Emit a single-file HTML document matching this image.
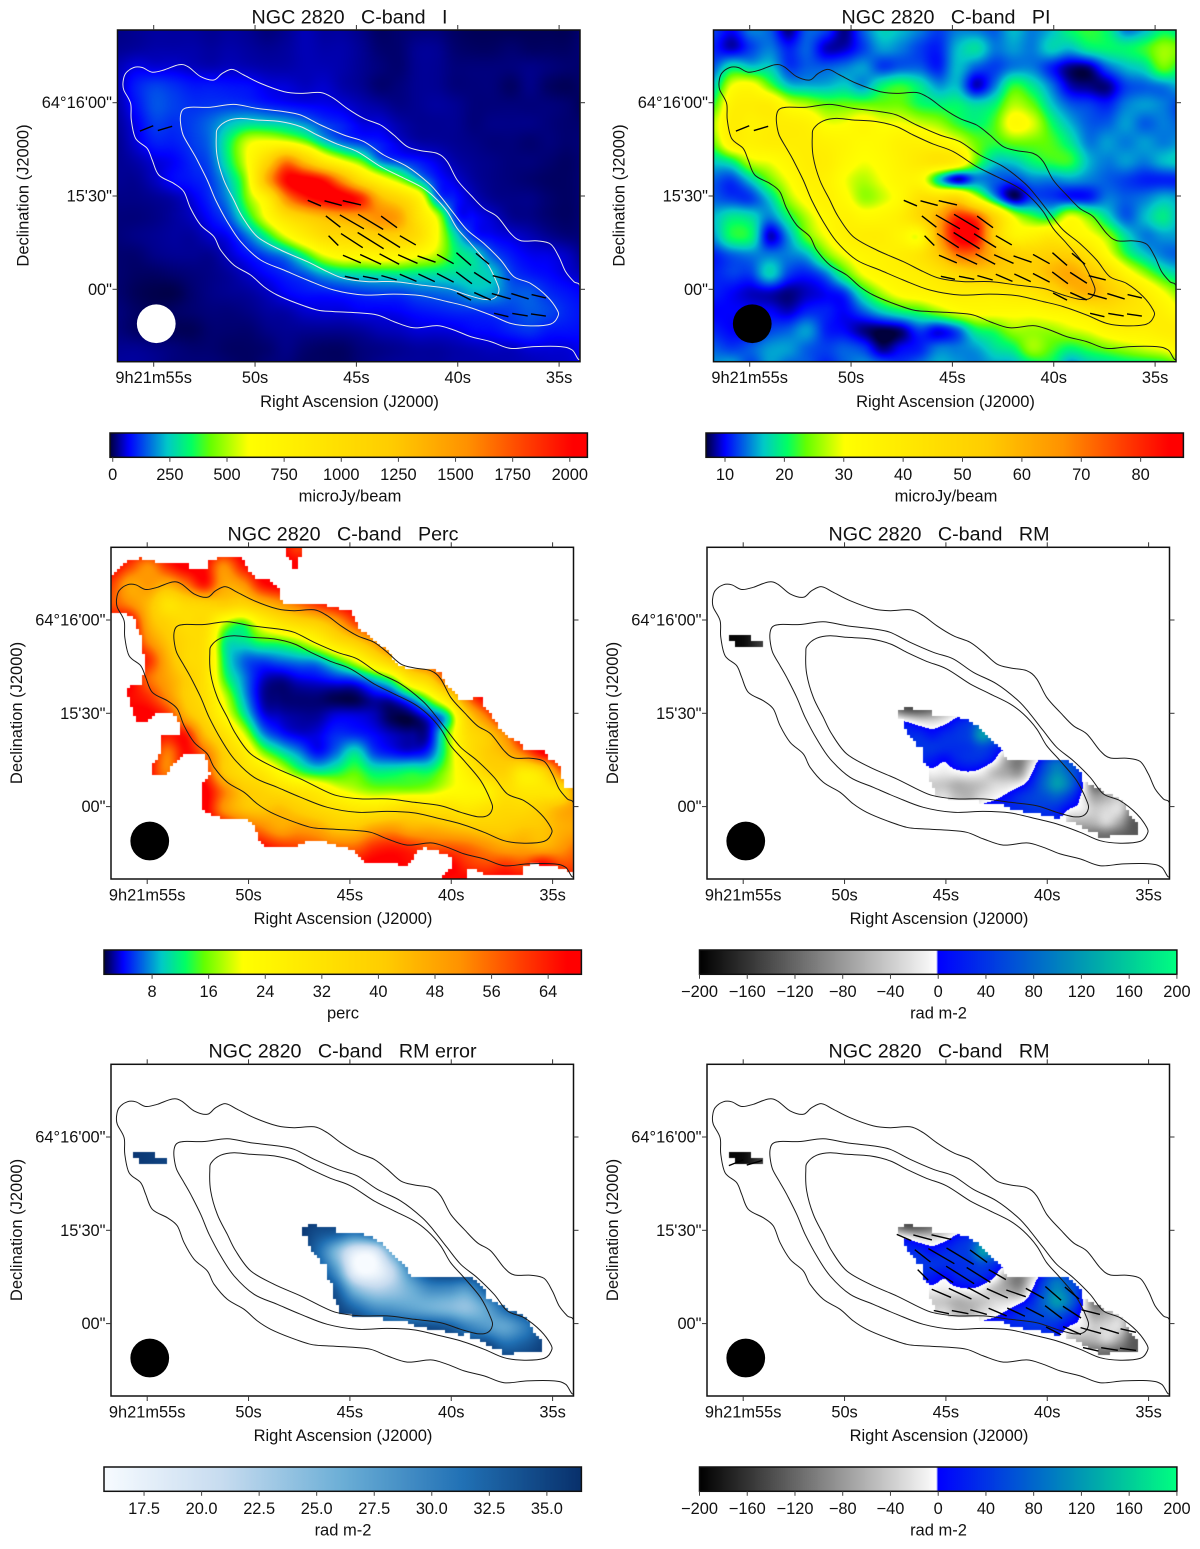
<!DOCTYPE html>
<html lang="en">
<head>
<meta charset="utf-8">
<title>NGC 2820 C-band polarization maps</title>
<style>
html,body{margin:0;padding:0;background:#fff;}
#figure{position:relative;width:1200px;height:1549px;overflow:hidden;background:#fff;}
canvas{position:absolute;display:block;}
#overlay{position:absolute;left:0;top:0;}
text{font-family:"Liberation Sans",Arial,sans-serif;fill:#111;}
.title{font-size:19.7px;text-anchor:middle;white-space:pre;}
.axis-label{font-size:16.5px;text-anchor:middle;}
.tick-label{font-size:16.4px;}
</style>
</head>
<body>
<div id="figure">
<canvas id="map-p1"></canvas>
<canvas id="map-p2"></canvas>
<canvas id="map-p3"></canvas>
<canvas id="map-p4"></canvas>
<canvas id="map-p5"></canvas>
<canvas id="map-p6"></canvas>
<svg id="overlay" width="1200" height="1549" viewBox="0 0 1200 1549" xmlns="http://www.w3.org/2000/svg">
<defs id="defs"></defs>
<g id="panel-p1">
<text class="title" x="349.5" y="23.5" xml:space="preserve">NGC 2820   C-band   I</text>
<text class="axis-label" x="349.5" y="407">Right Ascension (J2000)</text>
<text class="axis-label" transform="translate(28.5,195.5) rotate(-90)">Declination (J2000)</text>
<text class="axis-label" x="350" y="501.5">microJy/beam</text>
</g>
<g id="panel-p2">
<text class="title" x="946" y="23.5" xml:space="preserve">NGC 2820   C-band   PI</text>
<text class="axis-label" x="945.5" y="407">Right Ascension (J2000)</text>
<text class="axis-label" transform="translate(624.5,195.5) rotate(-90)">Declination (J2000)</text>
<text class="axis-label" x="946" y="501.5">microJy/beam</text>
</g>
<g id="panel-p3">
<text class="title" x="343" y="540.5" xml:space="preserve">NGC 2820   C-band   Perc</text>
<text class="axis-label" x="343" y="924">Right Ascension (J2000)</text>
<text class="axis-label" transform="translate(22,713) rotate(-90)">Declination (J2000)</text>
<text class="axis-label" x="343" y="1018.5">perc</text>
</g>
<g id="panel-p4">
<text class="title" x="939" y="540.5" xml:space="preserve">NGC 2820   C-band   RM</text>
<text class="axis-label" x="939" y="924">Right Ascension (J2000)</text>
<text class="axis-label" transform="translate(618,713) rotate(-90)">Declination (J2000)</text>
<text class="axis-label" x="938.5" y="1018.5">rad m-2</text>
</g>
<g id="panel-p5">
<text class="title" x="342.5" y="1057.5" xml:space="preserve">NGC 2820   C-band   RM error</text>
<text class="axis-label" x="343" y="1441">Right Ascension (J2000)</text>
<text class="axis-label" transform="translate(22,1230) rotate(-90)">Declination (J2000)</text>
<text class="axis-label" x="343" y="1535.5">rad m-2</text>
</g>
<g id="panel-p6">
<text class="title" x="939" y="1057.5" xml:space="preserve">NGC 2820   C-band   RM</text>
<text class="axis-label" x="939" y="1441">Right Ascension (J2000)</text>
<text class="axis-label" transform="translate(618,1230) rotate(-90)">Declination (J2000)</text>
<text class="axis-label" x="938.5" y="1535.5">rad m-2</text>
</g>
</svg>
</div>
<script>
// ---------- Axis tick values and labels ----------
const raTickSeconds = [55, 50, 45, 40, 35];
const raTickLabels = ['9h21m55s', '50s', '45s', '40s', '35s'];
const decTickArcsec = [60, 30, 0];
const decTickLabels = ['64\u00b016\'00"', '15\'30"', '00"'];

// ---------- Colorbar ticks ----------
const stokesTicks = [0, 250, 500, 750, 1000, 1250, 1500, 1750, 2000];
const piTicks = [10, 20, 30, 40, 50, 60, 70, 80];
const percTicks = [8, 16, 24, 32, 40, 48, 56, 64];
const rmTicks = [-200, -160, -120, -80, -40, 0, 40, 80, 120, 160, 200];
const rmErrTicks = [17.5, 20, 22.5, 25, 27.5, 30, 32.5, 35];

// ---------- Stokes I map (microJy/beam), 6 arcsec grid from the map corner ----------
const stokesRows = [
[20,25,30,30,30,25,30,25,15,25,40,30,30,20,5,10,15,15,5,0,0,0,0,0,0,15],
[25,30,35,35,35,30,35,30,25,30,40,35,35,25,10,10,25,25,10,5,5,10,5,5,5,15],
[40,60,55,55,45,40,45,40,35,35,40,40,35,25,15,10,25,25,15,15,15,15,20,15,10,10],
[40,95,125,110,90,90,85,80,60,55,45,50,35,25,10,15,25,25,15,15,15,5,20,5,0,10],
[35,85,140,125,110,115,120,115,95,80,70,65,55,40,30,20,25,30,25,15,15,15,15,15,10,0],
[30,65,120,110,125,165,235,280,270,245,190,125,95,60,55,35,25,25,25,15,20,20,20,15,10,10],
[25,55,95,95,120,170,350,560,620,600,470,270,165,120,90,55,35,30,25,20,15,15,10,15,10,15],
[25,35,55,70,105,150,340,620,1100,1600,1250,850,600,420,190,125,90,60,35,25,20,15,15,10,5,15],
[25,25,45,75,90,125,260,560,1400,2000,2080,1950,1500,1000,700,480,250,100,55,30,20,15,10,5,5,15],
[20,20,25,35,60,110,210,470,800,1550,1900,2050,2080,1900,1350,1100,780,200,90,45,25,20,20,10,5,15],
[15,15,20,30,45,80,150,350,620,950,1150,1300,1400,1450,1550,1450,950,570,125,75,50,25,20,10,5,15],
[15,20,25,30,30,50,75,175,340,570,800,1000,1050,1100,1150,1150,1000,620,280,105,70,55,40,25,15,15],
[10,10,20,25,25,25,50,85,135,200,360,570,680,680,730,700,620,520,340,270,145,90,65,60,45,20],
[10,5,5,10,15,20,30,50,75,105,145,220,270,290,300,310,300,290,280,270,235,125,90,75,55,40],
[10,0,-5,-5,10,20,25,30,45,70,85,90,100,115,125,125,150,160,175,220,210,150,145,105,85,70],
[15,5,0,5,10,15,15,20,30,35,50,55,55,65,65,70,85,95,105,110,115,125,145,130,100,85],
[15,5,0,0,0,10,10,10,20,25,25,25,25,30,40,45,55,55,60,75,80,100,115,90,85,80],
[25,25,20,15,10,10,5,5,10,20,10,5,5,15,20,25,30,30,35,40,45,45,55,55,55,70],
[30,30,25,15,15,15,10,5,15,15,5,5,5,15,25,30,30,30,35,35,35,40,40,45,50,60]
];

// ---------- Polarized intensity map (microJy/beam) ----------
const piRows = [
[12,10,14,13,8,13,12,8,13,17,16,14,12,14,14,13,16,14,16,20,22,20,14,16,20,18],
[11,9,12,14,11,13,9,9,12,15,14,12,11,16,18,14,15,14,17,16,19,20,20,22,26,24],
[13,19,17,17,12,13,13,14,15,12,13,13,11,16,13,12,14,14,11,8,8,13,16,18,24,20],
[17,30,32,24,17,16,16,17,15,20,22,19,15,16,9,14,22,19,14,9,8,8,12,13,14,16],
[22,36,38,38,30,27,24,24,24,24,24,21,20,20,18,20,27,24,17,13,12,11,14,15,14,12],
[27,38,36,38,38,36,30,30,33,30,30,28,26,22,20,23,32,29,21,16,13,13,15,13,14,13],
[24,36,36,38,38,38,36,34,32,33,36,36,34,30,24,22,24,24,23,19,14,15,14,15,14,15],
[17,20,28,30,34,38,38,33,30,32,36,40,42,38,24,17,17,20,22,22,16,14,15,14,16,17],
[13,12,17,24,30,36,36,30,27,30,34,33,18,9,14,13,12,14,14,15,14,13,12,11,11,11],
[13,12,12,17,26,32,36,32,26,28,33,44,46,50,32,17,8,12,12,11,11,14,13,14,16,15],
[16,19,18,14,20,27,33,36,33,34,38,48,62,80,76,50,30,23,21,30,25,18,13,16,19,15],
[15,21,20,9,15,24,30,36,38,38,34,31,62,86,84,52,36,36,40,36,32,26,18,14,15,15],
[11,13,14,14,14,16,24,30,34,36,38,42,54,70,70,58,52,50,52,52,44,32,22,17,14,13],
[11,12,12,17,12,11,14,22,30,34,36,38,42,48,52,52,52,52,58,62,56,46,34,26,20,17],
[11,10,9,9,8,9,10,12,20,27,32,34,36,38,38,38,40,42,48,56,60,54,46,38,30,24],
[10,10,10,10,9,11,11,10,13,17,20,22,26,30,32,32,32,32,34,36,40,44,42,40,36,30],
[11,10,10,12,13,15,11,10,8,7,8,12,10,13,20,22,26,26,26,28,30,34,36,36,38,38],
[13,12,13,15,15,13,12,13,12,8,10,11,14,14,15,18,20,26,23,20,22,24,26,28,30,34],
[15,16,12,15,13,13,11,13,15,14,12,14,16,15,14,15,15,18,20,14,16,17,18,18,19,22]
];

// ---------- Percent polarization map ----------
const percRows = [
[68,68,68,68,68,68,68,68,68,68,60,68,68,68,68,68,68,68,68,68,68,68,68,68,68,68],
[68,60,52,62,68,66,52,64,68,68,68,68,68,68,68,68,68,68,68,68,68,68,68,68,68,68],
[60,48,50,46,54,64,48,50,64,68,68,68,68,68,68,68,68,68,68,68,68,68,68,68,68,68],
[58,52,44,32,36,38,40,38,44,50,56,62,66,68,68,68,68,68,68,68,68,68,68,68,68,68],
[68,68,46,38,34,34,20,15,24,31,36,40,48,60,68,68,68,68,68,68,68,68,68,68,68,68],
[68,68,52,42,36,32,13,11,14,15,18,24,33,40,50,64,68,68,68,68,68,68,68,68,68,68],
[68,68,62,46,36,32,13,7,6,7,8,9,14,21,31,42,56,62,68,68,68,68,68,68,68,68],
[68,68,56,48,40,32,15,8,3.5,2.5,3.5,4,5,6,10,16,31,40,60,68,68,68,68,68,68,68],
[68,66,62,52,40,33,20,9.5,3,2,2,2,1.5,1.5,3,4,9,18,33,56,68,68,68,68,68,68],
[68,68,68,62,46,36,24,13,4.5,3,2.5,2.5,3.5,3.5,3,1.5,1.7,5,12,38,54,68,68,68,68,68],
[68,68,68,64,64,44,33,21,9,5,3.5,3.5,5,5,4,3,2.5,3.5,16,33,40,52,68,68,68,68],
[68,68,68,54,66,56,40,30,18,12,8,4.5,7,11,6,4.5,4,6,16,31,40,44,54,66,68,68],
[68,68,66,54,68,62,42,34,30,22,15,12,13,15,12,12,13,13,18,26,36,38,28,34,56,68],
[68,68,68,68,68,68,54,42,38,34,31,28,22,19,17,17,17,18,21,23,25,33,30,30,33,54],
[68,68,68,68,68,68,52,44,42,44,40,36,33,30,30,33,36,33,33,30,33,36,36,40,46,50],
[68,68,68,68,68,68,68,60,54,48,50,48,42,42,48,50,46,46,44,42,40,40,42,42,46,48],
[68,68,68,68,68,68,68,68,66,62,60,58,56,56,62,64,62,58,58,56,52,48,48,46,50,56],
[68,68,68,68,68,68,68,68,68,68,68,68,68,66,68,68,66,68,68,62,60,62,60,68,60,60],
[68,68,68,68,68,68,68,68,68,68,68,68,68,68,68,68,68,68,64,68,68,68,68,68,68,68]
];

// Valid-data outline of the percent map, arcsec offsets from map corner
const percRegion = [[0,10],[1.3,8.4],[3.9,5.2],[5.5,3.8],[8.7,3.8],[9.3,2.6],[10.1,3.8],[14.1,3.8],[14.1,5.2],[25.1,5.2],[25.1,7.2],[30.8,7.2],[31.5,3.6],[34.3,3.6],[34.7,2.6],[41.8,2.6],[42.9,5.2],[44.5,7.9],[46.6,9.7],[50.9,9.7],[52,11.6],[53.5,13.2],[53.9,16.4],[55.4,17.5],[69,17.6],[69,18.9],[73.3,18.9],[73.5,20.4],[76.5,20.4],[77.5,22.3],[79.7,26],[81.8,27.6],[85.6,30.8],[88.8,33.5],[91.4,37.2],[94.6,38.8],[103.7,38.8],[103.7,40.4],[106.4,40.4],[106.6,43.6],[109.6,46.3],[112.2,49.5],[115.4,49.5],[115.7,47.9],[118.6,47.9],[119.2,50.6],[121.8,53.8],[124.5,57.5],[127.7,61.2],[130.7,61.8],[132.2,64.7],[139.4,64.7],[139.6,67.1],[144.2,70.3],[144.7,76.7],[148.5,76.9],[148.5,105],[144.2,102.8],[135.2,101.2],[132.5,101.8],[132.2,105.3],[118.6,105.3],[118.6,103.9],[115.4,102.8],[113.8,103.4],[113.8,106.6],[104.8,106.6],[108.5,102.8],[109.6,99.1],[105.3,97.5],[100.5,96.4],[97.3,98],[96.2,100.7],[94.6,102.3],[90.3,100.7],[80.7,100.7],[78.1,97.5],[76,96.4],[64.7,93.5],[57.8,96.4],[51.4,96.4],[47.7,94.8],[46.1,89.5],[43.4,86.8],[35.9,87.1],[29.5,84.2],[29.5,75.1],[31.7,72.4],[30.1,66],[23.1,66],[19.4,70.3],[17.3,73.5],[13,73.5],[13.3,69.2],[15.7,66],[15.9,60.2],[22.1,60.2],[22.1,56.4],[19.4,52.7],[14.6,52.7],[10.9,56.4],[8.7,56.4],[7.1,52.7],[5.5,47.9],[5.5,44.7],[10.1,43.6],[10.9,38.3],[10.1,29.8],[8.7,26.6],[7.1,22.1],[0,20.4]];
const percPatch = [[55.7,0],[61.3,0],[61,2.6],[59.6,3.1],[59.6,6.8],[58.1,6.8],[58.1,4.2],[55.7,2.6]];

// ---------- Rotation measure (rad m-2), 4 arcsec grid starting at (60", 48") ----------
const rmRows = [
[-130,-140,-130,-120,-100,-60,-40,-40,-40,-40,-40,-40,-40,-40,-40,-40,-40,-40,-40,-40,-40],
[-100,-130,-130,-110,-70,-35,-20,-20,-20,-20,-20,-20,-20,-20,-20,-20,-20,-20,-20,-20,-20],
[20,2,-20,-25,-10,20,40,80,80,80,60,60,60,60,60,60,60,60,60,60,60],
[30,30,30,15,30,40,55,120,90,50,-30,-60,-80,-80,-50,-50,-50,-50,-50,-50,-50],
[30,40,40,40,35,35,40,55,35,5,-40,-80,-100,-100,-60,-60,-50,-50,-50,-50,-50],
[30,30,30,18,4,25,35,30,2,-70,-100,-40,30,65,45,30,-60,-60,-60,-60,-60],
[-20,-20,-20,-10,-15,-8,-3,-15,-50,-70,-80,-2,65,105,75,25,-70,-80,-60,-60,-60],
[-40,-40,-40,-40,-45,-60,-55,-45,-30,-25,-10,30,80,120,85,10,-110,-90,-50,-40,-40],
[-30,-30,-30,-30,-25,-50,-55,-25,-8,10,35,50,60,70,40,-8,-70,-60,-40,-60,-60],
[-30,-30,-30,-30,-30,-30,-30,10,20,30,30,40,40,30,-3,-15,-40,-30,-30,-100,-100],
[-30,-30,-30,-30,-30,-30,-30,-30,-30,20,20,20,20,20,-50,-60,-55,-35,-70,-125,-125],
[-30,-30,-30,-30,-30,-30,-30,-30,-30,-30,-30,-30,-30,-30,-80,-100,-110,-110,-120,-130,-130],
[-30,-30,-30,-30,-30,-30,-30,-30,-30,-30,-30,-30,-30,-30,-110,-110,-110,-110,-120,-130,-130]
];
const rmPatchRows = [[-195,-190,-150,-150],[-195,-190,-150,-150]];

// ---------- Rotation measure error (rad m-2), 6 arcsec grid starting at (60", 48") ----------
const rmErrRows = [
[36,36,36,36,36,36,36,36,36,36,36,36,36,36,36],
[36,34,33,31,33,35,36,36,36,36,36,36,36,36,36],
[36,32,25,18,18,27,35,36,36,36,36,36,36,36,36],
[36,34,28,17,16,21,30,35,36,36,36,36,36,36,36],
[36,36,33,25,22,23,26,29,29,28,33,36,36,36,36],
[36,36,35,32,29,28,27,26,25,24,27,32,35,36,36],
[36,36,36,36,35,34,34,34,33,30,28,27,30,34,36],
[36,36,36,36,36,36,36,36,36,35,35,32,33,35,36],
[36,36,36,36,36,36,36,36,36,36,36,36,36,36,36]
];
const rmErrPatchRows = [[36,35.5,35,35],[36,35.5,35,35]];

// Valid-data outline of the RM maps
const rmRegion = [[62.6,50.8],[65.7,50.8],[65.7,52.4],[71.9,52.4],[71.9,54],[81,54.3],[84.2,55.6],[85.8,57],[88.4,58.6],[90,60.2],[91.6,62.3],[94.3,64.8],[95.9,67.6],[110.8,67.8],[115.6,68.2],[117.8,69.8],[119.9,72.4],[120.4,74.6],[124.7,76.7],[127.9,78.8],[132.2,80.4],[134.3,83.1],[135.4,86.3],[138.3,89],[138.3,91.6],[129,91.6],[129,93.2],[125.2,93.2],[124.7,91.4],[120.4,90],[117.2,87.9],[114.6,87.9],[114.6,85.8],[111.9,86.8],[106.6,85.4],[97.5,84],[97.5,82.6],[88.4,82.2],[86.8,81.5],[77.8,80.6],[73,79.9],[72.4,76.7],[70.8,73.5],[70.8,70.8],[69.2,69],[69,64.4],[67.3,64.4],[67.1,61.8],[65.5,61.2],[63.9,58.6],[62.6,55.4],[61.4,54.8],[61.4,52.4],[62.6,52.4]];
const rmPatch = [[7,27.8],[14.1,27.8],[14.1,30],[17.6,30],[17.6,32.3],[9,32.3],[9,30],[7,30]];

// ---------- Stokes I contours, arcsec offsets from map corner ----------
const contourOuter = [[1.8,16.5],[2.6,13.9],[5.2,12],[7.9,12],[11.1,13.5],[14.8,12.8],[19.6,11.1],[22.5,11.7],[26.6,14.9],[30.8,16],[33.5,13.9],[36.7,12.6],[40.4,14.4],[45.8,17.1],[53.2,19.7],[58.6,20.3],[65,20],[69.2,21.9],[73.5,25.1],[78.8,28.3],[84.2,30.4],[88.4,33.6],[92.7,37.3],[97,38.6],[102.3,39.5],[105.5,42.1],[108.7,48],[113,52.8],[117.2,57.1],[121.5,59.7],[125.8,65.1],[129,67.4],[134.3,67.5],[138.6,68.5],[141.2,72.5],[143.4,77.3],[146,80.5],[148.2,82.3],[150.3,92.8],[148.2,105.1],[145.5,102.4],[141.8,101.3],[133.2,101.3],[125.8,101.9],[119.4,99.7],[113,98.1],[107.6,96],[102.3,94.6],[94.8,95.3],[88.4,93.3],[83.1,91.2],[76.7,90.5],[69.2,90.1],[63.9,89.6],[57.5,87.5],[51.1,84.8],[46.8,82.1],[42.6,78.4],[37.2,75.2],[33,70.4],[30.8,66.1],[26.6,62.4],[23.4,57.1],[21.2,51.7],[18,49.1],[13.2,46.4],[11.1,41.6],[9.5,37.9],[5.8,34.7],[4.4,28.8],[4.2,23.5],[2,19.2]];
const contourMiddle = [[20.2,27.2],[21,25.4],[23.4,24.7],[29.8,24.7],[37.2,23.8],[44.7,25.1],[53.2,26.1],[58.6,27.2],[65,30.4],[72.4,33.6],[78.8,35.7],[85.2,40],[92.7,43.7],[99.6,49.1],[103.4,53.3],[107.6,58.7],[111.9,64],[117.2,68.3],[122.6,73.6],[126.8,78.9],[132.2,81.1],[137.5,85.3],[140.7,89.6],[140.9,91.7],[138.6,94.1],[132.2,94.7],[125.8,93.9],[119.4,91.2],[111.9,88.5],[105.5,86.9],[97,85],[88.4,84.5],[78.8,84.8],[69.2,83.2],[60.7,80],[53.2,76.8],[45.8,73.6],[39.4,67.7],[35.1,61.3],[31.4,54.4],[28.7,48],[25.5,41.6],[23.4,37.9],[21,33.6],[20.2,29.9]];
const contourInner = [[31.6,34.1],[32.1,31.5],[35.1,29.1],[39.4,28.3],[44.7,28.8],[52.2,29.3],[58.6,30.9],[63.9,33.6],[70.3,36.5],[76.7,38.9],[84.2,43.7],[90.6,46.9],[97,50.1],[101.2,53.3],[105.5,58.1],[108.7,63.5],[113,68.3],[118.3,74.7],[121.5,81.1],[122,83.7],[120.4,85.9],[117.2,86.2],[111.9,84.8],[105.5,82.7],[97,81.6],[88.4,80.5],[79.9,80.5],[72.4,79.5],[67.1,77.3],[60.7,74.1],[52.2,70.4],[44.7,66.1],[39.9,59.7],[37.2,54.4],[34,48],[31.9,40.5]];

// ---------- Polarization vectors: centre (arcsec), length (arcsec), angle (deg) ----------
const vecX = [9.3,15.2,63,69,75,69,75,81,86.9,69.1,75,81,86.9,92.9,75,81,87,92.9,98.9,104.9,110.8,116.8,75,81,86.9,93,98.9,104.9,110.9,116.8,122.8,110.9,116.8,122.8,128.8,134.8,122.8,128.8,134.7];
const vecY = [31.5,31.5,55.4,55.4,55.3,61.3,61.4,61.4,61.4,67.4,67.4,67.4,67.4,67.3,73.3,73.4,73.3,73.3,73.3,73.3,73.3,73.2,79.3,79.3,79.3,79.3,79.3,79.3,79.3,79.3,79.3,85.3,85.2,85.2,85.2,85.2,91.2,91.1,91.2];
const vecLen = [4.6,4.8,4.6,5.7,6,5.9,8.9,9.4,6.3,4.4,8.3,9.8,8.3,5.9,6.2,7.4,7.1,6.8,6.1,6.1,6.2,5.5,4.6,5,5.1,5.8,5.8,6,6.3,6.4,5.6,5,5.8,6.3,5.8,4.7,4.7,5,4.8];
const vecAngle = [-21.8,-16.8,23,15,13,38,30,31,36,45,33,32,32,30,23,25,28,24,19,29,41,40,12,11,16,23,25,27,37,33,14,27,24,16,17,13,13,9,8];

// Restoring beam: centre and radius in arcsec
const beamCentre = [12.4, 94];
const beamRadius = 6.2;

// ---------- Colour maps ----------
const rainbowStops = [[0,0,0,60],[.04,0,0,255],[.12,0,200,200],[.17,0,255,100],[.21,100,255,0],[.29,255,255,0],[.59,255,204,0],[.75,255,144,0],[.87,255,64,0],[.97,255,0,0],[1,255,0,0]];
const blueStops = [[0,247,251,255],[.25,198,219,239],[.5,107,174,214],[.75,33,113,181],[1,8,48,107]];
function fromStops(stops, t) {
  t = Math.max(0, Math.min(1, t));
  for (let i = 1; i < stops.length; i++) {
    if (t <= stops[i][0]) {
      const a = stops[i - 1], b = stops[i], f = (t - a[0]) / (b[0] - a[0]);
      return [a[1] + (b[1] - a[1]) * f, a[2] + (b[2] - a[2]) * f, a[3] + (b[3] - a[3]) * f];
    }
  }
  return stops[stops.length - 1].slice(1);
}
function rmColor(v) {
  if (v < 0) { const g = 255 * Math.max(0, (v + 200) / 200); return [g, g, g]; }
  const f = Math.min(1, v / 200);
  return [0, 255 * f, 255 - 127 * f];
}
function rangeMap(stops, lo, hi) { return v => fromStops(stops, (v - lo) / (hi - lo)); }

const SVGNS = 'http://www.w3.org/2000/svg';
function mk(tag, attrs, parent) {
  const el = document.createElementNS(SVGNS, tag);
  for (const k in attrs) el.setAttribute(k, attrs[k]);
  parent.appendChild(el);
  return el;
}

// ---------- Panel configuration (layout only) ----------
const MAP_SCALE = 3.125;   // screen px per arcsec of map
const RA_SCALE = 20.27;    // screen px per RA second
const DEC_SCALE = 3.11;    // screen px per arcsec of declination
const PW = 462.5, PH = 331.7, BW = 477.4, BH = 24.3;

const panels = [
 {id:'p1',x:117.5,y:30,lineColor:'#e8e8e8',beamColor:'#fff',vectors:1,
  layers:[{rows:stokesRows,x0:0,y0:0,step:6}],
  bar:{x:110,y:433,lo:-12,hi:2077,ticks:stokesTicks,fmt:v=>String(v)},stops:rainbowStops},
 {id:'p2',x:713.5,y:30,lineColor:'#1a1a1a',beamColor:'#000',vectors:1,
  layers:[{rows:piRows,x0:0,y0:0,step:6}],
  bar:{x:706,y:433,lo:6.8,hi:87.2,ticks:piTicks,fmt:v=>String(v)},stops:rainbowStops},
 {id:'p3',x:111,y:547.3,lineColor:'#1a1a1a',beamColor:'#000',vectors:0,
  layers:[{rows:percRows,x0:0,y0:0,step:6,regions:[percRegion,percPatch]}],
  bar:{x:104,y:950,lo:1.2,hi:68.7,ticks:percTicks,fmt:v=>String(v)},stops:rainbowStops},
 {id:'p4',x:707,y:547.3,lineColor:'#1a1a1a',beamColor:'#000',vectors:0,
  layers:[{rows:rmRows,x0:60,y0:48,step:4,regions:[rmRegion]},{rows:rmPatchRows,x0:6,y0:26,step:6,regions:[rmPatch]}],
  bar:{x:699.5,y:950,lo:-200,hi:200,ticks:rmTicks,fmt:v=>String(v).replace('-','\u2212')},rm:true},
 {id:'p5',x:111,y:1064.3,lineColor:'#1a1a1a',beamColor:'#000',vectors:0,
  layers:[{rows:rmErrRows,x0:60,y0:48,step:6,regions:[rmRegion]},{rows:rmErrPatchRows,x0:6,y0:26,step:6,regions:[rmPatch]}],
  bar:{x:104,y:1467,lo:15.76,hi:36.5,ticks:rmErrTicks,fmt:v=>v.toFixed(1)},stops:blueStops},
 {id:'p6',x:707,y:1064.3,lineColor:'#1a1a1a',beamColor:'#000',vectors:1.08,
  layers:[{rows:rmRows,x0:60,y0:48,step:4,regions:[rmRegion]},{rows:rmPatchRows,x0:6,y0:26,step:6,regions:[rmPatch]}],
  bar:{x:699.5,y:1467,lo:-200,hi:200,ticks:rmTicks,fmt:v=>String(v).replace('-','\u2212')},rm:true}
];

// ---------- Interpolation of grid values ----------
function cubic(p0, p1, p2, p3, t) {
  return p1 + 0.5 * t * (p2 - p0 + t * (2 * p0 - 5 * p1 + 4 * p2 - p3 + t * (3 * (p1 - p2) + p3 - p0)));
}
function sampleGrid(rows, fx, fy) {
  const nr = rows.length, nc = rows[0].length;
  const ix = Math.floor(fx), iy = Math.floor(fy), tx = fx - ix, ty = fy - iy;
  const col = [];
  for (let j = -1; j <= 2; j++) {
    const r = rows[Math.max(0, Math.min(nr - 1, iy + j))];
    const c = k => r[Math.max(0, Math.min(nc - 1, ix + k))];
    col.push(cubic(c(-1), c(0), c(1), c(2), tx));
  }
  return cubic(col[0], col[1], col[2], col[3], ty);
}
function inPoly(poly, x, y) {
  let inside = false;
  for (let i = 0, j = poly.length - 1; i < poly.length; j = i++) {
    const a = poly[i], b = poly[j];
    if ((a[1] > y) !== (b[1] > y) && x < (b[0] - a[0]) * (y - a[1]) / (b[1] - a[1]) + a[0]) inside = !inside;
  }
  return inside;
}
function buildMask(regions) {
  if (!regions) return null;
  const w = 152, h = 110, m = new Uint8Array(w * h);
  for (let j = 0; j < h; j++) for (let i = 0; i < w; i++) {
    for (const p of regions) if (inPoly(p, i + .5, j + .5)) { m[j * w + i] = 1; break; }
  }
  return a => {
    const i = Math.floor(a[0]), j = Math.floor(a[1]);
    return i >= 0 && j >= 0 && i < w && j < h && m[j * w + i] === 1;
  };
}

function paintMap(panel, color) {
  const cv = document.getElementById('map-' + panel.id);
  const left = Math.floor(panel.x), top = Math.floor(panel.y);
  const W = Math.ceil(PW) + 1, H = Math.ceil(PH) + 1;
  cv.width = W; cv.height = H;
  cv.style.left = left + 'px'; cv.style.top = top + 'px';
  const ctx = cv.getContext('2d');
  const img = ctx.createImageData(W, H);
  for (const layer of panel.layers) {
    const mask = buildMask(layer.regions);
    for (let j = 0; j < H; j++) {
      const py = j + .5 + top - panel.y;
      if (py < 0 || py > PH) continue;
      const ay = py / MAP_SCALE;
      for (let i = 0; i < W; i++) {
        const px = i + .5 + left - panel.x;
        if (px < 0 || px > PW) continue;
        const ax = px / MAP_SCALE;
        if (mask && !mask([ax, ay])) continue;
        const v = sampleGrid(layer.rows, (ax - layer.x0) / layer.step, (ay - layer.y0) / layer.step);
        const c = color(v), o = (j * W + i) * 4;
        img.data[o] = c[0]; img.data[o + 1] = c[1]; img.data[o + 2] = c[2]; img.data[o + 3] = 255;
      }
    }
  }
  ctx.putImageData(img, 0, 0);
}

function smoothClosedPath(pts) {
  const n = pts.length;
  let d = 'M' + pts[0][0].toFixed(1) + ' ' + pts[0][1].toFixed(1);
  for (let i = 0; i < n; i++) {
    const p0 = pts[(i - 1 + n) % n], p1 = pts[i], p2 = pts[(i + 1) % n], p3 = pts[(i + 2) % n];
    const c1 = [p1[0] + (p2[0] - p0[0]) / 6, p1[1] + (p2[1] - p0[1]) / 6];
    const c2 = [p2[0] - (p3[0] - p1[0]) / 6, p2[1] - (p3[1] - p1[1]) / 6];
    d += 'C' + c1[0].toFixed(1) + ' ' + c1[1].toFixed(1) + ' ' + c2[0].toFixed(1) + ' ' + c2[1].toFixed(1) + ' ' + p2[0].toFixed(1) + ' ' + p2[1].toFixed(1);
  }
  return d + 'Z';
}

const defs = document.getElementById('defs');
panels.forEach(panel => {
  const group = document.getElementById('panel-' + panel.id);
  const color = panel.rm ? rmColor : rangeMap(panel.stops, panel.bar.lo, panel.bar.hi);
  paintMap(panel, color);

  // Axis functions
  const mapX = a => panel.x + a * MAP_SCALE;
  const mapY = a => panel.y + a * MAP_SCALE;
  const raX = s => panel.x + 36.2 + (55 - s) * RA_SCALE;
  const decY = d => panel.y + 259.3 - d * DEC_SCALE;

  const clip = mk('clipPath', {id: 'clip-' + panel.id}, defs);
  mk('rect', {x: panel.x, y: panel.y, width: PW, height: PH}, clip);

  // Contours
  const contourGroup = mk('g', {'clip-path': 'url(#clip-' + panel.id + ')'}, group);
  
  
  [contourOuter, contourMiddle, contourInner].forEach(c => {
    const path = mk('path', {d: smoothClosedPath(c.map(p => [mapX(p[0]), mapY(p[1])])), fill: 'none', stroke: panel.lineColor, 'stroke-width': 1}, contourGroup);
    
    
  });

  // Polarization vectors
  if (panel.vectors) {
    vecX.forEach((vx, i) => {
      const a = vecAngle[i] * Math.PI / 180, r = vecLen[i] * panel.vectors / 2;
      const seg = mk('line', {
        x1: mapX(vx - r * Math.cos(a)), y1: mapY(vecY[i] - r * Math.sin(a)),
        x2: mapX(vx + r * Math.cos(a)), y2: mapY(vecY[i] + r * Math.sin(a)),
        stroke: '#000', 'stroke-width': 1.4
      }, contourGroup);
      
      
    });
  }

  // Beam
  const beam = mk('circle', {cx: mapX(beamCentre[0]), cy: mapY(beamCentre[1]), r: beamRadius * MAP_SCALE, fill: panel.beamColor}, group);
  
  

  // Frame
  const frame = mk('rect', {x: panel.x, y: panel.y, width: PW, height: PH, fill: 'none', stroke: '#111', 'stroke-width': 1.5}, group);
  
  

  // RA ticks
  raTickSeconds.forEach((s, i) => {
    const x = raX(s);
    const top = mk('line', {x1: x, x2: x, y1: panel.y - 5, y2: panel.y, stroke: '#333', 'stroke-width': 1}, group);
    
    
    const bottom = mk('line', {x1: x, x2: x, y1: panel.y + PH, y2: panel.y + PH + 5, stroke: '#333', 'stroke-width': 1}, group);
    
    
    const label = mk('text', {x: x, y: panel.y + 353, 'text-anchor': 'middle', class: 'tick-label'}, group);
    label.textContent = raTickLabels[i];
    
    
  });

  // Dec ticks
  decTickArcsec.forEach((d, i) => {
    const y = decY(d);
    const left = mk('line', {x1: panel.x - 5, x2: panel.x, y1: y, y2: y, stroke: '#333', 'stroke-width': 1}, group);
    
    
    const right = mk('line', {x1: panel.x + PW, x2: panel.x + PW + 5, y1: y, y2: y, stroke: '#333', 'stroke-width': 1}, group);
    
    
    const label = mk('text', {x: panel.x - 5.5, y: y + 5.5, 'text-anchor': 'end', class: 'tick-label'}, group);
    label.textContent = decTickLabels[i];
    
    
  });

  // Colorbar
  const bar = panel.bar;
  const barX = v => bar.x + (v - bar.lo) / (bar.hi - bar.lo) * BW;
  const grad = mk('linearGradient', {id: 'grad-' + panel.id, x1: 0, x2: 1, y1: 0, y2: 0}, defs);
  const N = 240;
  for (let i = 0; i <= N; i++) {
    const c = color(bar.lo + (bar.hi - bar.lo) * i / N);
    mk('stop', {offset: i / N, 'stop-color': 'rgb(' + Math.round(c[0]) + ',' + Math.round(c[1]) + ',' + Math.round(c[2]) + ')'}, grad);
  }
  const barRect = mk('rect', {x: bar.x, y: bar.y, width: BW, height: BH, fill: 'url(#grad-' + panel.id + ')', stroke: '#111', 'stroke-width': 1.5}, group);
  
  
  bar.ticks.forEach(v => {
    const x = barX(v);
    const tick = mk('line', {x1: x, x2: x, y1: bar.y + BH, y2: bar.y + BH + 4.5, stroke: '#444', 'stroke-width': 1}, group);
    
    
    const label = mk('text', {x: x, y: bar.y + 47, 'text-anchor': 'middle', class: 'tick-label'}, group);
    label.textContent = bar.fmt(v);
    
    
  });
});
</script>
</body>
</html>
